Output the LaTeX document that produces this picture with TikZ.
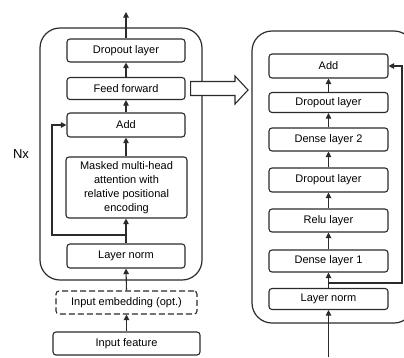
\documentclass[tikz,border=0pt]{standalone}
\usepackage{fontspec}
\setmainfont{Liberation Sans}
\usetikzlibrary{arrows.meta,calc}

\definecolor{ink}{HTML}{2B2B2B}

\tikzset{
  layer/.style={draw=ink, line width=1.1pt, fill=white, rounded corners=3pt,
    inner sep=0pt, align=center, font=\fontsize{11}{13.8}\selectfont},
  block/.style={draw=ink, line width=1.2pt, rounded corners=20pt},
  flow/.style={draw=ink, line width=1.1pt, -{Triangle[length=5.5pt,width=5.5pt]}},
  link/.style={draw=ink, line width=1.1pt},
}

\begin{document}
\begin{tikzpicture}[x=1pt,y=-1pt]
\useasboundingbox (0,0) rectangle (404,357);

% ---- stacked encoder block (repeated N times) ----
\draw[block] (40,28) rectangle (202,280);
\node[font=\fontsize{13}{15}\selectfont] (nx) at (21,154) {Nx};

\node[layer, minimum width=118pt, minimum height=23pt] (drop) at (126,50.5) {Dropout layer};
\node[layer, minimum width=118pt, minimum height=22pt] (ff)   at (126,88.5) {Feed forward};
\node[layer, minimum width=118pt, minimum height=24pt] (add)  at (126,125) {Add};
\node[layer, minimum width=121pt, minimum height=61pt] (mha)  at (126.5,187.5)
  {Masked multi-head\\attention with\\relative positional\\encoding};
\node[layer, minimum width=118pt, minimum height=24pt] (ln)   at (126,256) {Layer norm};

\node[layer, dash pattern=on 6pt off 3pt, minimum width=141pt, minimum height=23pt] (emb) at (126.5,302.5) {Input embedding (opt.)};
\node[layer, minimum width=147pt, minimum height=23pt] (feat) at (126.5,343.5) {Input feature};

\coordinate (out) at (126,12);
\coordinate (split) at (126,235);
\coordinate (skipL) at (52,235);

\draw[flow] (feat.north -| emb) -- (emb.south);
\draw[flow] (emb.north) -- (ln.south);
\draw[flow] (ln.north) -- (mha.south -| ln);
\draw[flow] (mha.north -| add) -- (add.south);
\draw[flow] (add.north) -- (ff.south);
\draw[flow] (ff.north) -- (drop.south);
\draw[flow] (drop.north) -- (out);
\draw[flow] (split) -- (skipL) |- (add.west);

% ---- expanded feed-forward module ----
\draw[block] (252,31) rectangle (414,323);

\node[layer, minimum width=119pt, minimum height=24pt] (radd)   at (328.5,66) {Add};
\node[layer, minimum width=119pt, minimum height=20pt] (rdrop2) at (328.5,102.5) {Dropout layer};
\node[layer, minimum width=119pt, minimum height=23pt] (rd2)    at (328.5,139.5) {Dense layer 2};
\node[layer, minimum width=119pt, minimum height=24pt] (rdrop1) at (328.5,180) {Dropout layer};
\node[layer, minimum width=119pt, minimum height=23pt] (relu)   at (328.5,220.5) {Relu layer};
\node[layer, minimum width=119pt, minimum height=22pt] (rd1)    at (328.5,261) {Dense layer 1};
\node[layer, minimum width=119pt, minimum height=21pt] (rln)    at (328.5,299) {Layer norm};

\coordinate (rin) at (328.5,357);
\coordinate (rsplit) at (328.5,283);
\coordinate (rskip) at (402,283);

\draw[flow] (rin) -- (rln.south);
\draw[flow] (rln.north) -- (rd1.south);
\draw[flow] (rd1.north) -- (relu.south);
\draw[flow] (relu.north) -- (rdrop1.south);
\draw[flow] (rdrop1.north) -- (rd2.south);
\draw[flow] (rd2.north) -- (rdrop2.south);
\draw[flow] (rdrop2.north) -- (radd.south);
\draw[flow] (rsplit) -- (rskip) |- (radd.east);

% ---- hollow arrow: Feed forward expanded ----
\draw[link, fill=white, line join=miter]
  ($(ff.east)+(5,-7)$) -- (235,81.5) -- (235,76) -- (248,90) -- (235,104)
  -- (235,95.5) -- ($(ff.east)+(5,7)$) -- cycle;
\end{tikzpicture}
\end{document}
